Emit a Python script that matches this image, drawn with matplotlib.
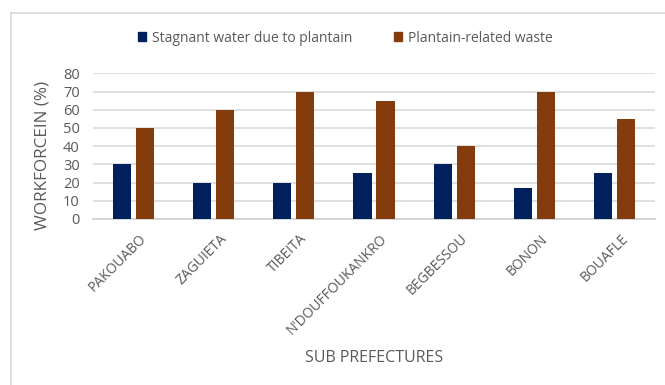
import matplotlib.pyplot as plt
import matplotlib.transforms as mtransforms
import numpy as np
from matplotlib.lines import Line2D
from matplotlib.patches import Patch

plt.rcParams['font.family'] = ['Open Sans', 'DejaVu Sans']

prefectures = ['PAKOUABO', 'ZAGUIETA', 'TIBEITA', "N'DOUFFOUKANKRO",
               'BEGBESSOU', 'BONON', 'BOUAFLE']
stagnant_water = [30, 20, 20, 25, 30, 17, 25]
plantain_waste = [50, 60, 70, 65, 40, 70, 55]
series_names = ['Stagnant water due to plantain', 'Plantain-related waste']

BLUE = '#002060'
BROWN = '#843c0c'
TXT = '#595959'
GRID = '#d9d9d9'

W, H = 665, 385
fig = plt.figure(figsize=(W / 100, H / 100), dpi=100)
ax = fig.add_axes([93 / W, 1 - 219 / H, (655 - 93) / W, (219 - 73.3) / H])

x = np.arange(len(prefectures))
bw = 0.225
off = 0.143
ax.bar(x - off, stagnant_water, bw, color=BLUE, zorder=3)
ax.bar(x + off, plantain_waste, bw, color=BROWN, zorder=3)

ax.set_xlim(-0.5, len(prefectures) - 0.5)
ax.set_ylim(0, 80)
ax.set_yticks(range(0, 81, 10))
ax.grid(axis='y', color=GRID, linewidth=1.2, zorder=0)
ax.set_axisbelow(True)
for s in ['top', 'right', 'left']:
    ax.spines[s].set_visible(False)
ax.spines['bottom'].set_color('#cfcfcf')
ax.spines['bottom'].set_linewidth(1.2)

ax.tick_params(axis='y', length=0, pad=9.5, labelsize=10.5, labelcolor=TXT)
ax.tick_params(axis='x', length=0, pad=9)
ax.set_xticks(x)
ax.set_xticklabels(prefectures, rotation=45, ha='right', va='top',
                   rotation_mode='anchor', fontsize=10, color=TXT)
shift = mtransforms.ScaledTranslation(6 / 100, 0, fig.dpi_scale_trans)
for lbl in ax.get_xticklabels():
    lbl.set_transform(lbl.get_transform() + shift)

fig.text(43 / W, 1 - 155 / H, 'WORKFORCEIN (%)', rotation=90, ha='center',
         va='center', fontsize=12.3, color=TXT)
fig.text(374 / W, 1 - 358 / H, 'SUB PREFECTURES', ha='center', va='center',
         fontsize=11.5, color=TXT)

handles = [Patch(color=BLUE), Patch(color=BROWN)]
leg = fig.legend(handles, series_names, loc='center', ncol=2, frameon=False,
                 bbox_to_anchor=(345 / W, 1 - 38 / H), fontsize=10,
                 handlelength=0.6, handleheight=0.6, handletextpad=0.4,
                 columnspacing=3.0)
for t in leg.get_texts():
    t.set_color(TXT)

# thin chart-area border (left and top edges)
fig.add_artist(Line2D([10.5 / W, 10.5 / W], [0, 1 - 12.5 / H],
                      color=GRID, linewidth=1.2, transform=fig.transFigure))
fig.add_artist(Line2D([10.5 / W, 1], [1 - 12.5 / H, 1 - 12.5 / H],
                      color=GRID, linewidth=1.2, transform=fig.transFigure))

fig.savefig('out.png', dpi=100)
